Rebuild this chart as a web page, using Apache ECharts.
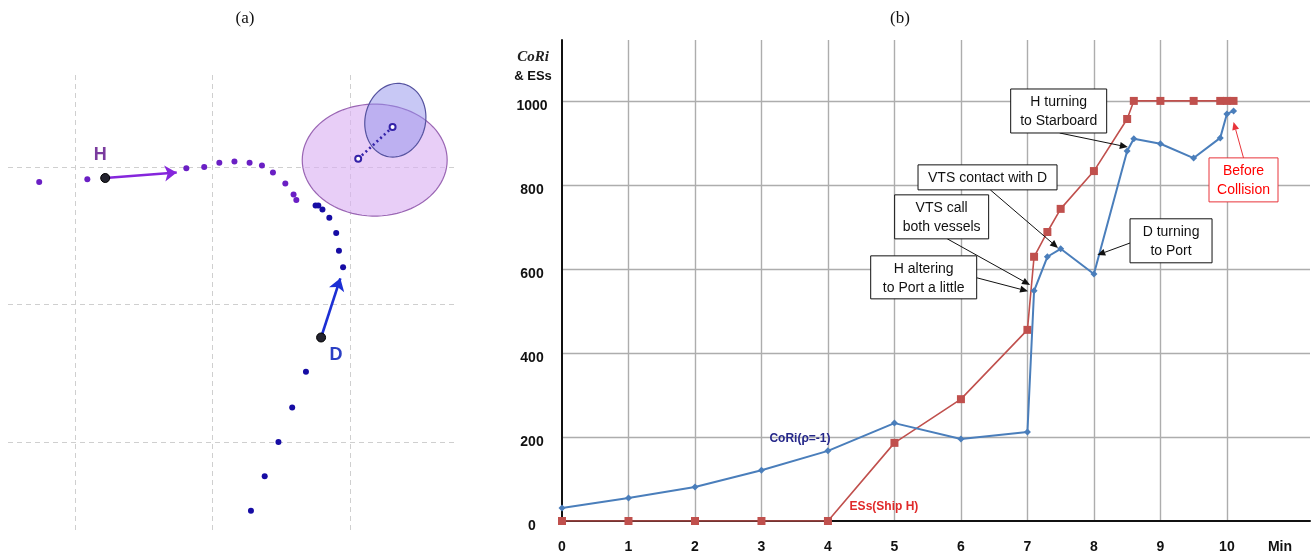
<!DOCTYPE html>
<html>
<head>
<meta charset="utf-8">
<script src="https://cdn.jsdelivr.net/npm/echarts/dist/echarts.min.js"></script>
<style>
html, body { margin: 0; padding: 0; background: #fff; }
#chart { width: 1315px; height: 560px; }
</style>
</head>
<body>
<div id="chart"></div>
<script>
// ---- (b) CoRi & ESs against time (min) ----
var minuteTicks = [0, 1, 2, 3, 4, 5, 6, 7, 8, 9, 10];

var coriMin = [0, 1, 2, 3, 4, 5, 6, 7, 7.1, 7.3, 7.5, 8, 8.5, 8.6, 9, 9.5, 9.9, 10, 10.1];
var coriVal = [31, 55, 81, 121, 167, 233, 195, 212, 548, 629, 648, 588, 881, 910, 898, 864, 912, 969, 976];

var essMin = [0, 1, 2, 3, 4, 5, 6, 7, 7.1, 7.3, 7.5, 8, 8.5, 8.6, 9, 9.5, 9.9, 10, 10.1];
var essVal = [0, 0, 0, 0, 0, 186, 290, 455, 629, 688, 743, 833, 957, 1000, 1000, 1000, 1000, 1000, 1000];

// ---- (a) ship tracks, in grid cells ----
var trackH = [[-0.26, 1.89], [0.09, 1.91], [0.81, 1.99], [0.94, 2.00], [1.05, 2.03], [1.16, 2.04],
  [1.27, 2.03], [1.36, 2.01], [1.44, 1.96], [1.53, 1.88], [1.59, 1.80], [1.61, 1.76]];
var trackD = [[1.28, -0.50], [1.38, -0.25], [1.48, 0.00], [1.58, 0.25], [1.68, 0.51], [1.95, 1.27],
  [1.92, 1.39], [1.90, 1.52], [1.85, 1.63], [1.80, 1.69], [1.77, 1.72], [1.75, 1.72]];
var shipNames = ['H', 'D'];
var shipPos = [[0.22, 1.92], [1.79, 0.76]];
var headings = [[[0.22, 1.92], [0.74, 1.96]], [[1.79, 0.76], [1.93, 1.19]]];
// centre x, centre y, semi-axis x, semi-axis y, rotation (deg)
var domains = [[2.18, 2.05, 0.527, 0.407, 0], [2.33, 2.34, 0.22, 0.27, -12]];
var cpaLine = [[2.06, 2.06], [2.31, 2.29]];
var cellLines = [0, 1, 2];

// callout boxes of (b): box centre and arrow tip in chart values
var notes = [
  { text: 'H turning\nto Starboard', at: [7.47, 976], w: 96, h: 44, from: [0.51, 1], to: [8.51, 890] },
  { text: 'VTS contact with D', at: [6.40, 818], w: 139, h: 25, from: [0.52, 1], to: [7.46, 650] },
  { text: 'VTS call\nboth vessels', at: [5.71, 724], w: 94, h: 44, from: [0.56, 1], to: [7.04, 562] },
  { text: 'H altering\nto Port a little', at: [5.44, 580], w: 106, h: 43, from: [1, 0.51], to: [7.01, 547] },
  { text: 'D turning\nto Port', at: [9.16, 667], w: 82, h: 44, from: [0, 0.55], to: [8.05, 633] },
  { text: 'Before\nCollision', at: [10.25, 812], w: 69, h: 44, from: [0.5, 0], to: [10.1, 950], color: '#e8343a', textColor: '#ff0000' }
];

var sansFont = '"Liberation Sans", Arial, sans-serif';

function renderNote(params, api) {
  var n = notes[params.dataIndex];
  var c = api.coord([api.value(0), api.value(1)]);
  var x0 = c[0] - n.w / 2, y0 = c[1] - n.h / 2;
  var s = [x0 + n.from[0] * n.w, y0 + n.from[1] * n.h];
  var t = api.coord(n.to);
  var dx = t[0] - s[0], dy = t[1] - s[1];
  var len = Math.sqrt(dx * dx + dy * dy);
  var ux = dx / len, uy = dy / len;
  var hl = 8, hw = 3.5;
  var bx = t[0] - ux * hl, by = t[1] - uy * hl;
  var col = n.color || '#111';
  return {
    type: 'group',
    children: [
      { type: 'line', shape: { x1: s[0], y1: s[1], x2: bx, y2: by }, style: { stroke: col, lineWidth: 1 } },
      { type: 'polygon', shape: { points: [[t[0], t[1]], [bx - uy * hw, by + ux * hw], [bx + uy * hw, by - ux * hw]] }, style: { fill: col } },
      { type: 'rect', shape: { x: x0, y: y0, width: n.w, height: n.h }, style: { fill: '#fff', stroke: col, lineWidth: 1 } },
      {
        type: 'text',
        style: {
          text: n.text, x: c[0], y: c[1] + 1,
          align: 'center', verticalAlign: 'middle', textAlign: 'center', textVerticalAlign: 'middle',
          font: '14px ' + sansFont, fill: n.textColor || '#111', lineHeight: 19
        }
      }
    ]
  };
}

function renderDomain(params, api) {
  var cx = api.value(0), cy = api.value(1), a = api.value(2), b = api.value(3);
  var phi = api.value(4) * Math.PI / 180;
  var pts = [];
  for (var k = 0; k < 90; k++) {
    var t = k / 90 * 2 * Math.PI;
    var ex = a * Math.cos(t), ey = b * Math.sin(t);
    pts.push(api.coord([cx + ex * Math.cos(phi) - ey * Math.sin(phi), cy + ex * Math.sin(phi) + ey * Math.cos(phi)]));
  }
  var st = params.dataIndex === 0
    ? { fill: 'rgba(218,176,242,0.62)', stroke: '#9a66b4', lineWidth: 1.2 }
    : { fill: 'rgba(145,145,235,0.5)', stroke: '#55529f', lineWidth: 1.2 };
  return { type: 'polygon', shape: { points: pts }, style: st };
}

var coriData = coriMin.map(function (m, i) {
  var d = { value: [m, coriVal[i]] };
  if (i === 4) {
    d.label = {
      show: true, formatter: 'CoRi(\u03c1=-1)', position: 'inside', offset: [-28, -12],
      color: '#26288a', fontWeight: 'bold', fontSize: 12, fontFamily: sansFont
    };
  }
  return d;
});
var essData = essMin.map(function (m, i) {
  var d = { value: [m, essVal[i]] };
  if (i === 4) {
    d.label = {
      show: true, formatter: 'ESs(Ship H)', position: 'inside', offset: [56, -14],
      color: '#e02a2a', fontWeight: 'bold', fontSize: 12, fontFamily: sansFont
    };
  }
  return d;
});

var chart = echarts.init(document.getElementById('chart'), null, { renderer: 'canvas' });

var option = {
  animation: false,
  backgroundColor: '#fff',
  grid: [
    { left: 8, top: 75, width: 447, height: 455 },
    { left: 562, top: 40, right: 5, bottom: 39 },
    { left: 562, top: 40, width: 665, bottom: 39 }
  ],
  xAxis: [
    { gridIndex: 0, type: 'value', min: -0.487, max: 2.764, show: false },
    {
      gridIndex: 1, type: 'value', min: 0, max: 11.25, interval: 1,
      axisLine: { lineStyle: { color: '#111', width: 2 } },
      axisTick: { show: false },
      splitLine: { show: false },
      axisLabel: {
        margin: 19, color: '#111', fontWeight: 'bold', fontSize: 14, fontFamily: sansFont,
        showMaxLabel: false,
        formatter: function (v) { return minuteTicks.indexOf(v) >= 0 ? String(v) : ''; }
      }
    },
    {
      gridIndex: 2, type: 'value', min: 0, max: 10, interval: 1,
      axisLine: { show: false }, axisTick: { show: false }, axisLabel: { show: false },
      splitLine: { show: true, showMinLine: false, lineStyle: { color: '#adadad', width: 1.4 } }
    }
  ],
  yAxis: [
    { gridIndex: 0, type: 'value', min: -0.64, max: 2.669, show: false },
    {
      gridIndex: 1, type: 'value', min: 0, max: 1145, interval: 200,
      axisLine: { show: true, lineStyle: { color: '#111', width: 2 } },
      axisTick: { show: false },
      splitLine: { show: true, showMinLine: false, showMaxLine: false, lineStyle: { color: '#adadad', width: 1.4 } },
      axisLabel: {
        margin: 30, align: 'center', verticalAlign: 'top', lineHeight: 11, showMaxLabel: false,
        color: '#111', fontWeight: 'bold', fontSize: 14, fontFamily: sansFont,
        formatter: function (v) { return String(v); }
      }
    },
    { gridIndex: 2, type: 'value', min: 0, max: 1145, show: false }
  ],
  graphic: [
    { type: 'text', x: 245, y: 19, style: { text: '(a)', align: 'center', verticalAlign: 'middle', textAlign: 'center', textVerticalAlign: 'middle', font: '17px "Liberation Serif", "DejaVu Serif", serif', fill: '#111' } },
    { type: 'text', x: 900, y: 19, style: { text: '(b)', align: 'center', verticalAlign: 'middle', textAlign: 'center', textVerticalAlign: 'middle', font: '17px "Liberation Serif", "DejaVu Serif", serif', fill: '#111' } },
    { type: 'text', x: 533, y: 57, style: { text: 'CoRi', align: 'center', verticalAlign: 'middle', textAlign: 'center', textVerticalAlign: 'middle', font: 'italic bold 15px "Liberation Serif", "DejaVu Serif", serif', fill: '#222' } },
    { type: 'text', x: 533, y: 76, style: { text: '& ESs', align: 'center', verticalAlign: 'middle', textAlign: 'center', textVerticalAlign: 'middle', font: 'bold 13px ' + sansFont, fill: '#111' } },
    { type: 'text', x: 1280, y: 547, style: { text: 'Min', align: 'center', verticalAlign: 'middle', textAlign: 'center', textVerticalAlign: 'middle', font: 'bold 14px ' + sansFont, fill: '#111' } }
  ],
  series: [
    // ---------- (a) ----------
    {
      type: 'custom', xAxisIndex: 0, yAxisIndex: 0, silent: true, z: 1,
      renderItem: renderDomain, data: domains, encode: { x: 0, y: 1 }
    },
    {
      type: 'scatter', xAxisIndex: 0, yAxisIndex: 0, silent: true, z: 3,
      data: trackH, symbolSize: 6, itemStyle: { color: '#6a1fc4', opacity: 1 },
      markLine: {
        silent: true, symbol: 'none', label: { show: false }, z: 0,
        lineStyle: { color: '#cfcfcf', type: [5, 4], width: 1 },
        data: cellLines.map(function (v) { return { xAxis: v }; })
          .concat(cellLines.map(function (v) { return { yAxis: v }; }))
      }
    },
    {
      type: 'scatter', xAxisIndex: 0, yAxisIndex: 0, silent: true, z: 3,
      data: trackD, symbolSize: 6, itemStyle: { color: '#160ca4', opacity: 1 }
    },
    {
      type: 'lines', coordinateSystem: 'cartesian2d', xAxisIndex: 0, yAxisIndex: 0, silent: true, z: 4,
      symbol: ['none', 'arrow'], symbolSize: 12,
      lineStyle: { width: 2.6, opacity: 1 },
      data: headings.map(function (h, i) {
        return { coords: h, lineStyle: { color: i ? '#1c2fd4' : '#8526dc' } };
      })
    },
    {
      type: 'line', xAxisIndex: 0, yAxisIndex: 0, silent: true, z: 4,
      data: cpaLine, symbol: 'emptyCircle', symbolSize: 6,
      lineStyle: { color: '#3422a8', width: 2.6, type: [2, 3] },
      itemStyle: { color: '#3422a8', borderColor: '#3422a8', borderWidth: 1.2 }
    },
    {
      type: 'scatter', xAxisIndex: 0, yAxisIndex: 0, silent: true, z: 5,
      data: shipPos.map(function (p, i) {
        return {
          value: p,
          label: {
            show: true, formatter: shipNames[i], position: 'inside',
            offset: i ? [15, 18] : [-5, -23],
            color: i ? '#2b3fc4' : '#7a3b9e', fontWeight: 'bold', fontSize: 18, fontFamily: sansFont
          }
        };
      }),
      symbolSize: 9, itemStyle: { color: '#23232e', borderColor: '#000', borderWidth: 1, opacity: 1 }
    },
    // ---------- (b) ----------
    {
      name: 'ESs(Ship H)', type: 'line', xAxisIndex: 1, yAxisIndex: 1, z: 3,
      data: essData, symbol: 'rect', symbolSize: 8, showAllSymbol: true,
      lineStyle: { color: '#c0504d', width: 1.6 },
      itemStyle: { color: '#c0504d' }
    },
    {
      name: 'CoRi', type: 'line', xAxisIndex: 1, yAxisIndex: 1, z: 4,
      data: coriData, symbol: 'diamond', symbolSize: 7, showAllSymbol: true,
      lineStyle: { color: '#4a7ebb', width: 2 },
      itemStyle: { color: '#4a7ebb' }
    },
    {
      type: 'custom', xAxisIndex: 1, yAxisIndex: 1, silent: true, z: 10,
      renderItem: renderNote,
      data: notes.map(function (n) { return n.at; }),
      encode: { x: 0, y: 1 }
    }
  ]
};

chart.setOption(option);
</script>
</body>
</html>
